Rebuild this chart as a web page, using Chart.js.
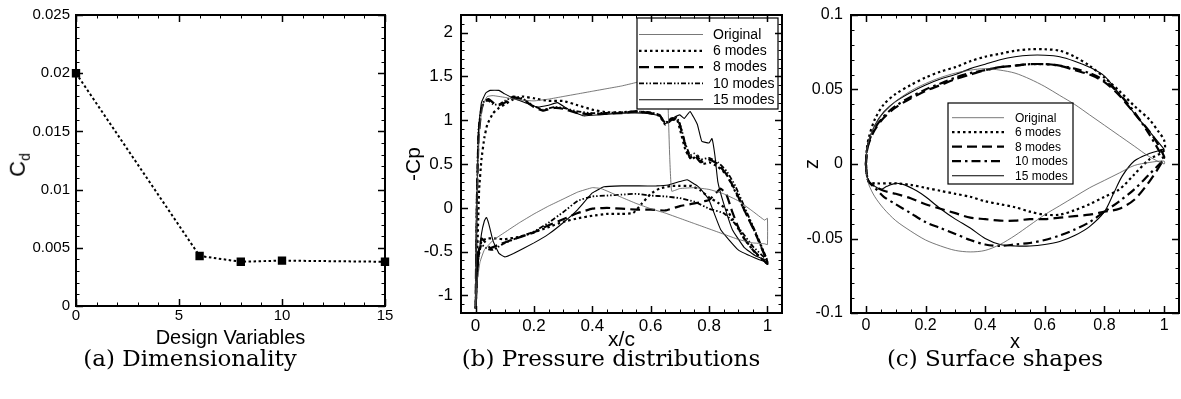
<!DOCTYPE html>
<html>
<head>
<meta charset="utf-8">
<script src="https://cdn.jsdelivr.net/npm/chart.js@4.4.1/dist/chart.umd.min.js"></script>
<style>
    body {
        margin: 0;
        background: #fff;
        width: 1181px;
        height: 399px;
        position: relative;
        overflow: hidden;
        font-family: "Liberation Sans", Arial, sans-serif;
    }
    canvas { position: absolute; top: 0; }
    .caption {
        position: absolute;
        top: 346px;
        font-family: "DejaVu Serif", serif;
        font-size: 23px;
        line-height: 24px;
        white-space: nowrap;
        transform: translateX(-50%);
    }
    #cdTitle {
        position: absolute;
        left: 19px;
        top: 165px;
        font-size: 22px;
        transform: translate(-50%, -50%) rotate(-90deg);
        white-space: nowrap;
    }
    #cdTitle sub { font-size: 14px; }
</style>
</head>
<body>
<canvas id="chart-cd" width="400" height="360" style="left:0"></canvas>
<canvas id="chart-cp" width="400" height="360" style="left:400px"></canvas>
<canvas id="chart-shape" width="391" height="360" style="left:790px"></canvas>
<div id="cdTitle">C<sub>d</sub></div>
<div class="caption" style="left:190px">(a) Dimensionality</div>
<div class="caption" style="left:611px">(b) Pressure distributions</div>
<div class="caption" style="left:995px">(c) Surface shapes</div>

<script>
// (a) drag coefficient against number of design variables
let designVars = [0, 6, 8, 10, 15];
let dragCoeff = [0.02, 0.0043, 0.0038, 0.0039, 0.0038];
let cdXTicks = [0, 5, 10, 15];
let cdYTicks = [0, 0.005, 0.01, 0.015, 0.02, 0.025];

// (b) -Cp against x/c, [x, -Cp], leading edge to trailing edge
let cpOrigUpper = [[0, -1.15], [0.003, -0.2], [0.008, 0.5], [0.015, 0.95], [0.025, 1.18], [0.04, 1.27], [0.06, 1.28], [0.1, 1.26], [0.15, 1.23], [0.2, 1.22], [0.25, 1.24], [0.3, 1.27], [0.35, 1.3], [0.4, 1.33], [0.45, 1.36], [0.5, 1.39], [0.55, 1.43], [0.6, 1.48], [0.64, 1.53], [0.655, 1.55], [0.665, 0.6], [0.672, 0.19], [0.7, 0.22], [0.75, 0.23], [0.8, 0.21], [0.85, 0.16], [0.9, 0.08], [0.95, -0.04], [0.99, -0.14], [1.0, -0.12]];
let cpOrigLower = [[0, -1.15], [0.005, -0.85], [0.015, -0.62], [0.03, -0.48], [0.06, -0.37], [0.1, -0.28], [0.15, -0.17], [0.2, -0.07], [0.25, 0.02], [0.3, 0.1], [0.35, 0.18], [0.4, 0.23], [0.43, 0.22], [0.5, 0.12], [0.55, 0.05], [0.6, -0.01], [0.65, -0.06], [0.7, -0.12], [0.75, -0.18], [0.8, -0.24], [0.85, -0.3], [0.9, -0.36], [0.95, -0.4], [0.99, -0.41], [1.0, -0.42]];
let cp6Upper = [[0, -1.15], [0.005, -0.6], [0.012, 0.2], [0.02, 0.55], [0.03, 0.8], [0.04, 0.95], [0.06, 1.08], [0.08, 1.14], [0.1, 1.18], [0.13, 1.24], [0.16, 1.27], [0.2, 1.25], [0.25, 1.22], [0.3, 1.22], [0.35, 1.17], [0.4, 1.12], [0.45, 1.09], [0.5, 1.09], [0.55, 1.1], [0.6, 1.08], [0.63, 1.05], [0.65, 0.95], [0.67, 1.0], [0.69, 1.01], [0.7, 0.9], [0.72, 0.65], [0.74, 0.55], [0.76, 0.6], [0.78, 0.5], [0.8, 0.52], [0.83, 0.47], [0.86, 0.38], [0.88, 0.25], [0.91, 0.05], [0.95, -0.22], [0.98, -0.45], [1.0, -0.62]];
let cp6Lower = [[0, -1.15], [0.008, -0.6], [0.02, -0.38], [0.04, -0.35], [0.07, -0.35], [0.1, -0.36], [0.15, -0.33], [0.2, -0.28], [0.25, -0.22], [0.3, -0.16], [0.35, -0.12], [0.4, -0.09], [0.45, -0.07], [0.5, -0.07], [0.54, -0.06], [0.57, 0.05], [0.6, 0.16], [0.63, 0.22], [0.67, 0.25], [0.7, 0.25], [0.74, 0.25], [0.77, 0.2], [0.8, 0.12], [0.83, 0.06], [0.86, -0.02], [0.89, -0.18], [0.92, -0.35], [0.96, -0.52], [1.0, -0.64]];
let cp8Upper = [[0, -1.15], [0.004, 0.0], [0.01, 0.8], [0.02, 1.12], [0.03, 1.22], [0.045, 1.24], [0.06, 1.2], [0.08, 1.17], [0.1, 1.2], [0.13, 1.26], [0.16, 1.24], [0.2, 1.15], [0.23, 1.11], [0.27, 1.14], [0.3, 1.13], [0.35, 1.08], [0.4, 1.07], [0.5, 1.08], [0.55, 1.1], [0.6, 1.08], [0.63, 1.06], [0.65, 0.96], [0.67, 1.0], [0.69, 1.02], [0.7, 0.95], [0.72, 0.7], [0.735, 0.57], [0.75, 0.6], [0.77, 0.52], [0.8, 0.55], [0.83, 0.5], [0.86, 0.38], [0.89, 0.2], [0.92, -0.02], [0.96, -0.3], [1.0, -0.62]];
let cp8Lower = [[0, -1.15], [0.008, -0.55], [0.02, -0.35], [0.035, -0.4], [0.05, -0.46], [0.08, -0.42], [0.12, -0.37], [0.2, -0.28], [0.25, -0.2], [0.3, -0.13], [0.35, -0.06], [0.4, -0.01], [0.45, 0.0], [0.5, -0.01], [0.55, -0.02], [0.6, -0.02], [0.65, -0.03], [0.7, 0.02], [0.75, 0.05], [0.8, 0.09], [0.84, 0.22], [0.86, 0.15], [0.88, -0.05], [0.91, -0.3], [0.95, -0.48], [1.0, -0.64]];
let cp10Upper = [[0, -1.15], [0.004, 0.1], [0.01, 0.9], [0.02, 1.15], [0.03, 1.22], [0.045, 1.22], [0.06, 1.18], [0.08, 1.18], [0.1, 1.22], [0.13, 1.27], [0.16, 1.25], [0.2, 1.16], [0.23, 1.12], [0.27, 1.15], [0.3, 1.14], [0.35, 1.1], [0.4, 1.08], [0.5, 1.09], [0.55, 1.1], [0.6, 1.09], [0.63, 1.06], [0.65, 0.97], [0.67, 1.02], [0.69, 1.03], [0.7, 0.96], [0.72, 0.72], [0.735, 0.6], [0.75, 0.62], [0.77, 0.55], [0.8, 0.57], [0.83, 0.52], [0.86, 0.42], [0.89, 0.25], [0.92, 0.02], [0.96, -0.28], [1.0, -0.6]];
let cp10Lower = [[0, -1.15], [0.008, -0.6], [0.02, -0.42], [0.04, -0.47], [0.06, -0.48], [0.09, -0.42], [0.13, -0.36], [0.2, -0.27], [0.25, -0.17], [0.3, -0.05], [0.35, 0.08], [0.4, 0.13], [0.45, 0.14], [0.5, 0.15], [0.55, 0.16], [0.6, 0.14], [0.65, 0.13], [0.7, 0.11], [0.75, 0.07], [0.8, -0.01], [0.85, -0.06], [0.88, -0.15], [0.9, -0.22], [0.95, -0.44], [1.0, -0.6]];
let cp15Upper = [[0, -1.15], [0.004, 0.0], [0.01, 0.9], [0.02, 1.2], [0.035, 1.31], [0.05, 1.34], [0.08, 1.34], [0.1, 1.3], [0.13, 1.25], [0.17, 1.2], [0.21, 1.15], [0.25, 1.17], [0.28, 1.2], [0.32, 1.12], [0.37, 1.05], [0.42, 1.06], [0.5, 1.08], [0.58, 1.08], [0.63, 1.05], [0.65, 0.96], [0.68, 1.03], [0.7, 1.06], [0.715, 1.02], [0.735, 1.1], [0.76, 0.95], [0.775, 0.76], [0.8, 0.74], [0.81, 0.79], [0.82, 0.6], [0.83, 0.3], [0.85, 0.05], [0.88, -0.25], [0.92, -0.45], [0.96, -0.55], [1.0, -0.6]];
let cp15Lower = [[0, -1.15], [0.01, -0.6], [0.02, -0.3], [0.03, -0.15], [0.037, -0.11], [0.045, -0.18], [0.06, -0.38], [0.08, -0.52], [0.1, -0.56], [0.13, -0.52], [0.2, -0.4], [0.25, -0.3], [0.3, -0.17], [0.35, -0.02], [0.4, 0.17], [0.44, 0.24], [0.5, 0.25], [0.56, 0.25], [0.62, 0.25], [0.66, 0.26], [0.7, 0.3], [0.725, 0.32], [0.76, 0.25], [0.78, 0.18], [0.8, 0.09], [0.84, -0.25], [0.9, -0.48], [0.97, -0.59], [1.0, -0.62]];
let cpXTicks = [0, 0.2, 0.4, 0.6, 0.8, 1];
let cpYTicks = [-1, -0.5, 0, 0.5, 1, 1.5, 2];

// (c) surface z against x, [x, z], leading edge to trailing edge
let zOrigUpper = [[0, 0], [0.003, 0.009], [0.01, 0.016], [0.025, 0.024], [0.05, 0.032], [0.1, 0.042], [0.15, 0.049], [0.2, 0.054], [0.25, 0.058], [0.3, 0.061], [0.35, 0.063], [0.4, 0.064], [0.45, 0.063], [0.5, 0.061], [0.55, 0.057], [0.6, 0.052], [0.65, 0.046], [0.7, 0.04], [0.75, 0.033], [0.8, 0.026], [0.85, 0.019], [0.9, 0.012], [0.95, 0.005], [1.0, 0.0]];
let zOrigLower = [[0, 0], [0.003, -0.008], [0.01, -0.014], [0.03, -0.022], [0.06, -0.03], [0.1, -0.038], [0.15, -0.045], [0.2, -0.051], [0.25, -0.055], [0.3, -0.058], [0.35, -0.059], [0.4, -0.058], [0.45, -0.054], [0.5, -0.048], [0.55, -0.041], [0.6, -0.034], [0.65, -0.028], [0.7, -0.022], [0.75, -0.016], [0.8, -0.011], [0.85, -0.006], [0.9, -0.001], [0.95, 0.001], [1.0, 0.002]];
let z6Upper = [[0, 0], [0.003, 0.01], [0.01, 0.018], [0.03, 0.03], [0.06, 0.04], [0.1, 0.047], [0.15, 0.053], [0.2, 0.058], [0.25, 0.062], [0.3, 0.065], [0.35, 0.069], [0.4, 0.072], [0.45, 0.074], [0.5, 0.076], [0.55, 0.077], [0.6, 0.077], [0.65, 0.076], [0.7, 0.072], [0.75, 0.066], [0.8, 0.058], [0.85, 0.049], [0.9, 0.039], [0.95, 0.03], [0.98, 0.022], [1.0, 0.016]];
let z6Lower = [[0, 0], [0.003, -0.007], [0.01, -0.012], [0.03, -0.013], [0.1, -0.013], [0.15, -0.014], [0.2, -0.016], [0.25, -0.018], [0.3, -0.02], [0.35, -0.022], [0.4, -0.025], [0.45, -0.027], [0.5, -0.029], [0.55, -0.032], [0.6, -0.034], [0.65, -0.034], [0.7, -0.031], [0.75, -0.027], [0.8, -0.022], [0.85, -0.017], [0.9, -0.007], [0.95, 0.003], [1.0, 0.009]];
let z8Upper = [[0, 0], [0.003, 0.008], [0.01, 0.014], [0.03, 0.023], [0.06, 0.031], [0.1, 0.038], [0.15, 0.044], [0.2, 0.049], [0.25, 0.053], [0.3, 0.057], [0.35, 0.06], [0.4, 0.063], [0.45, 0.065], [0.5, 0.066], [0.55, 0.067], [0.6, 0.067], [0.65, 0.066], [0.7, 0.063], [0.75, 0.06], [0.8, 0.055], [0.85, 0.046], [0.9, 0.034], [0.95, 0.022], [0.98, 0.013], [1.0, 0.005]];
let z8Lower = [[0, 0], [0.003, -0.007], [0.01, -0.012], [0.03, -0.015], [0.06, -0.018], [0.1, -0.02], [0.15, -0.023], [0.2, -0.027], [0.25, -0.03], [0.3, -0.033], [0.35, -0.036], [0.4, -0.037], [0.45, -0.038], [0.5, -0.038], [0.55, -0.037], [0.6, -0.037], [0.65, -0.036], [0.7, -0.035], [0.75, -0.034], [0.8, -0.032], [0.85, -0.03], [0.9, -0.024], [0.95, -0.012], [0.98, -0.003], [1.0, 0.004]];
let z10Upper = [[0, 0], [0.003, 0.008], [0.01, 0.015], [0.03, 0.024], [0.06, 0.032], [0.1, 0.039], [0.15, 0.045], [0.2, 0.05], [0.25, 0.054], [0.3, 0.058], [0.35, 0.061], [0.4, 0.063], [0.45, 0.065], [0.5, 0.066], [0.55, 0.067], [0.6, 0.067], [0.65, 0.066], [0.7, 0.064], [0.75, 0.061], [0.8, 0.056], [0.85, 0.047], [0.9, 0.035], [0.95, 0.02], [0.98, 0.01], [1.0, 0.003]];
let z10Lower = [[0, 0], [0.003, -0.007], [0.01, -0.012], [0.03, -0.016], [0.06, -0.022], [0.1, -0.027], [0.15, -0.033], [0.2, -0.039], [0.25, -0.043], [0.3, -0.047], [0.35, -0.051], [0.4, -0.054], [0.45, -0.055], [0.5, -0.054], [0.55, -0.053], [0.6, -0.051], [0.65, -0.048], [0.7, -0.044], [0.75, -0.039], [0.8, -0.032], [0.85, -0.025], [0.9, -0.017], [0.95, -0.007], [1.0, 0.003]];
let z15Upper = [[0, 0], [0.003, 0.009], [0.01, 0.016], [0.03, 0.026], [0.06, 0.035], [0.1, 0.042], [0.15, 0.048], [0.2, 0.053], [0.25, 0.057], [0.3, 0.06], [0.35, 0.064], [0.4, 0.067], [0.45, 0.07], [0.5, 0.072], [0.55, 0.073], [0.6, 0.073], [0.65, 0.072], [0.7, 0.069], [0.75, 0.065], [0.8, 0.059], [0.85, 0.047], [0.9, 0.034], [0.95, 0.022], [1.0, 0.01]];
let z15Lower = [[0, 0], [0.003, -0.007], [0.01, -0.012], [0.03, -0.015], [0.05, -0.017], [0.07, -0.015], [0.1, -0.013], [0.13, -0.014], [0.17, -0.018], [0.2, -0.022], [0.25, -0.03], [0.3, -0.037], [0.35, -0.043], [0.4, -0.05], [0.45, -0.054], [0.5, -0.055], [0.55, -0.055], [0.6, -0.054], [0.65, -0.052], [0.7, -0.048], [0.75, -0.042], [0.8, -0.032], [0.83, -0.02], [0.86, -0.008], [0.9, 0.002], [0.95, 0.007], [1.0, 0.01]];
let zXTicks = [0, 0.2, 0.4, 0.6, 0.8, 1];
let zYTicks = [-0.1, -0.05, 0, 0.05, 0.1];

let seriesLabels = ["Original", "6 modes", "8 modes", "10 modes", "15 modes"];

/**
 * Draws the closed frame and the inward major / minor tick marks on all four sides.
 */
const frameTicks = {
    id: 'frameTicks',
    afterDraw(chart, args, opts) {
        const {ctx, chartArea: a, scales: {x, y}} = chart;
        const steps = (min, max, step) => {
            let out = [];
            for (let i = Math.ceil(min / step - 1e-6); i * step <= max + 1e-9; i++) {
                out.push(i * step);
            }
            return out;
        };
        ctx.save();
        ctx.strokeStyle = '#000';
        ctx.lineWidth = 1;
        ctx.setLineDash([]);
        const xMark = (v, len) => {
            let px = Math.round(x.getPixelForValue(v)) + 0.5;
            ctx.beginPath();
            ctx.moveTo(px, a.bottom); ctx.lineTo(px, a.bottom - len);
            ctx.moveTo(px, a.top); ctx.lineTo(px, a.top + len);
            ctx.stroke();
        };
        const yMark = (v, len) => {
            let py = Math.round(y.getPixelForValue(v)) + 0.5;
            ctx.beginPath();
            ctx.moveTo(a.left, py); ctx.lineTo(a.left + len, py);
            ctx.moveTo(a.right, py); ctx.lineTo(a.right - len, py);
            ctx.stroke();
        };
        steps(x.min, x.max, opts.xMinor).forEach(v => xMark(v, 3.5));
        steps(y.min, y.max, opts.yMinor).forEach(v => yMark(v, 3.5));
        ctx.lineWidth = 1.5;
        x.ticks.forEach(t => xMark(t.value, 7));
        y.ticks.forEach(t => yMark(t.value, 7));
        ctx.lineWidth = 2;
        ctx.strokeRect(a.left, a.top, a.right - a.left, a.bottom - a.top);
        ctx.restore();
    }
};

/**
 * Legend drawn as a white box inside the plot area, using each dataset's own line style.
 */
const boxLegend = {
    id: 'boxLegend',
    afterDatasetsDraw(chart, args, opts) {
        if (!opts.box) {
            return;
        }
        const {ctx, chartArea: a} = chart;
        const b = opts.box;
        let left = a.left + b.left, top = a.top + b.top;
        ctx.save();
        ctx.fillStyle = '#fff';
        ctx.fillRect(left, top, b.width, b.height);
        ctx.strokeStyle = '#000';
        ctx.lineWidth = 1.2;
        ctx.setLineDash([]);
        ctx.strokeRect(left, top, b.width, b.height);
        ctx.font = b.fontSize + 'px "Liberation Sans", Arial, sans-serif';
        ctx.textBaseline = 'middle';
        ctx.fillStyle = '#000';
        chart.data.datasets.forEach((ds, i) => {
            let py = top + b.firstRow + i * b.rowStep;
            ctx.beginPath();
            ctx.strokeStyle = ds.borderColor;
            ctx.lineWidth = ds.borderWidth;
            ctx.setLineDash(ds.borderDash || []);
            ctx.moveTo(left + b.lineFrom, py);
            ctx.lineTo(left + b.lineTo, py);
            ctx.stroke();
            ctx.fillText(ds.label, left + b.textAt, py + 0.5);
        });
        ctx.restore();
    }
};

/**
 * builds one closed curve: upper surface from the leading edge, then the lower surface back
 */
function curve(label, upper, lower, style, tension) {
    let pts = upper.concat(lower.slice().reverse());
    return Object.assign({
        label: label,
        data: pts.map(p => ({x: p[0], y: p[1]})),
        showLine: true,
        pointRadius: 0,
        fill: false,
        borderColor: '#000',
        tension: tension
    }, style);
}

/**
 * shared linear axis settings, ticks taken from the given list;
 * size is the fixed width (y) or height (x) of the axis box
 */
function axis(min, max, tickList, fontSize, pad, size, title) {
    return {
        type: 'linear',
        min: min,
        max: max,
        grid: {display: false, drawTicks: false},
        border: {display: false},
        afterBuildTicks: s => { s.ticks = tickList.map(v => ({value: v})); },
        afterFit: s => {
            if (s.isHorizontal()) {
                s.height = size;
            } else {
                s.width = size;
            }
            // labels may overhang the frame, do not let them shrink the plot area
            s.paddingTop = s.paddingBottom = s.paddingLeft = s.paddingRight = 0;
        },
        ticks: {
            color: '#000',
            padding: pad,
            maxRotation: 0,
            autoSkip: false,
            font: {family: '"Liberation Sans", Arial, sans-serif', size: fontSize},
            callback: v => String(v)
        },
        title: title
    };
}

function axisTitle(text, size, padding) {
    return {
        display: true,
        text: text,
        color: '#000',
        padding: padding,
        font: {family: '"Liberation Sans", Arial, sans-serif', size: size}
    };
}

Chart.defaults.animation = false;
Chart.defaults.responsive = false;
Chart.defaults.plugins.legend.display = false;
Chart.defaults.plugins.tooltip.enabled = false;

let cpStyles = [
    {borderColor: '#555', borderWidth: 0.8},
    {borderWidth: 2.2, borderDash: [2.5, 3]},
    {borderWidth: 2.2, borderDash: [10, 5]},
    {borderWidth: 1.8, borderDash: [5, 2, 1.5, 2, 1.5, 2]},
    {borderWidth: 1.1}
];
let zStyles = [
    {borderColor: '#555', borderWidth: 0.8},
    {borderWidth: 2.2, borderDash: [2.5, 3]},
    {borderWidth: 2.2, borderDash: [10, 5]},
    {borderWidth: 2.2, borderDash: [9, 4, 2.5, 4]},
    {borderWidth: 1.1}
];

let charts = {
    cd: new Chart(document.getElementById('chart-cd'), {
        type: 'scatter',
        data: {
            datasets: [{
                label: 'Cd',
                data: designVars.map((v, i) => ({x: v, y: dragCoeff[i]})),
                showLine: true,
                borderColor: '#000',
                borderWidth: 2,
                borderDash: [2.5, 2.5],
                pointStyle: 'rect',
                pointRadius: 4.5,
                pointBackgroundColor: '#000',
                pointBorderColor: '#000',
                clip: false
            }]
        },
        options: {
            layout: {padding: {left: 0, right: 15, top: 15, bottom: 0}},
            scales: {
                x: axis(0, 15, cdXTicks, 15, 1, 54, axisTitle('Design Variables', 20, {top: 0, bottom: 10})),
                y: axis(0, 0.025, cdYTicks, 15, 6, 76, {display: false})
            },
            plugins: {frameTicks: {xMinor: 1, yMinor: 0.001}}
        },
        plugins: [frameTicks]
    }),
    cp: new Chart(document.getElementById('chart-cp'), {
        type: 'scatter',
        data: {
            datasets: [
                curve(seriesLabels[0], cpOrigUpper, cpOrigLower, cpStyles[0], 0.1),
                curve(seriesLabels[1], cp6Upper, cp6Lower, cpStyles[1], 0.1),
                curve(seriesLabels[2], cp8Upper, cp8Lower, cpStyles[2], 0.1),
                curve(seriesLabels[3], cp10Upper, cp10Lower, cpStyles[3], 0.1),
                curve(seriesLabels[4], cp15Upper, cp15Lower, cpStyles[4], 0.1)
            ]
        },
        options: {
            layout: {padding: {left: 0, right: 18, top: 15, bottom: 0}},
            scales: {
                x: axis(-0.05, 1.05, cpXTicks, 17, 3, 47, axisTitle('x/c', 21, {top: 0, bottom: 7})),
                y: axis(-1.2, 2.2, cpYTicks, 17, 8, 61, axisTitle('-Cp', 21, {top: 2, bottom: 0}))
            },
            plugins: {
                frameTicks: {xMinor: 0.05, yMinor: 0.1},
                boxLegend: {box: {left: 176, top: 3, width: 141, height: 91, firstRow: 16.5, rowStep: 16.3, lineFrom: 2, lineTo: 66, textAt: 76, fontSize: 14}}
            }
        },
        plugins: [boxLegend, frameTicks]
    }),
    shape: new Chart(document.getElementById('chart-shape'), {
        type: 'scatter',
        data: {
            datasets: [
                curve(seriesLabels[0], zOrigUpper, zOrigLower, zStyles[0], 0.3),
                curve(seriesLabels[1], z6Upper, z6Lower, zStyles[1], 0.3),
                curve(seriesLabels[2], z8Upper, z8Lower, zStyles[2], 0.3),
                curve(seriesLabels[3], z10Upper, z10Lower, zStyles[3], 0.3),
                curve(seriesLabels[4], z15Upper, z15Lower, zStyles[4], 0.3)
            ]
        },
        options: {
            layout: {padding: {left: 0, right: 2, top: 15, bottom: 0}},
            scales: {
                x: axis(-0.05, 1.05, zXTicks, 16, 3, 47, axisTitle('x', 20, {top: 0, bottom: 6})),
                y: axis(-0.1, 0.1, zYTicks, 16, 8, 61, axisTitle('z', 20, {top: 10, bottom: 0}))
            },
            plugins: {
                frameTicks: {xMinor: 0.05, yMinor: 0.01},
                boxLegend: {box: {left: 97, top: 88, width: 125, height: 81, firstRow: 14.7, rowStep: 14.5, lineFrom: 4, lineTo: 56, textAt: 67, fontSize: 12}}
            }
        },
        plugins: [boxLegend, frameTicks]
    })
};
</script>
</body>
</html>
